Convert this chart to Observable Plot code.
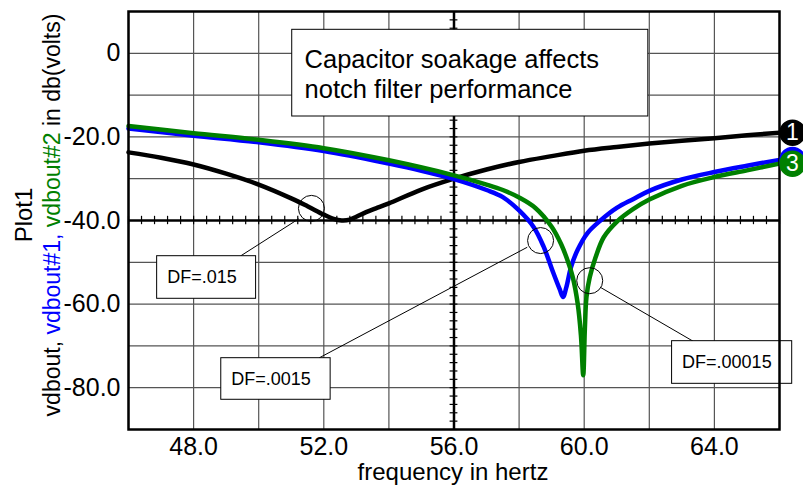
<!DOCTYPE html>
<html><head><meta charset="utf-8">
<script src="https://cdn.jsdelivr.net/npm/d3@7"></script>
<script src="https://cdn.jsdelivr.net/npm/@observablehq/plot@0.6"></script>
<style>
body{margin:0;background:#fff}
svg{font-family:"Liberation Sans",Arial,sans-serif}
</style>
</head><body><div id="chart"></div>
<script>
// vdbout (DF=.015)
const freqBlack = [46,47,48,49,50,51,51.5,52,52.3,52.55,52.8,53.0,53.3,53.6,54,55,56,57,58,59,60,61,62,63,64,65,66];
const dbBlack   = [-23.7,-25.0,-26.6,-28.8,-31.4,-34.7,-36.6,-38.6,-39.6,-40.0,-39.8,-39.1,-38.0,-37.1,-35.9,-32.6,-30.0,-27.8,-26.0,-24.6,-23.3,-22.4,-21.6,-20.9,-20.3,-19.6,-19.0];
// vdbout#1 (DF=.0015)
const freqBlue = [46,48,50,52,54,55,56,57,57.5,58,58.45,58.75,59.05,59.25,59.35,59.45,59.6,59.8,60.1,60.5,61,61.5,62,63,64,65,66];
const dbBlue   = [-18.0,-19.7,-21.3,-23.4,-26.4,-28.1,-30.1,-32.7,-34.4,-37.6,-41.6,-46.2,-52.5,-56.5,-58.3,-56.0,-51.0,-47.0,-43.0,-40.0,-37.0,-34.9,-32.9,-30.2,-28.4,-26.9,-25.5];
// vdbout#2 (DF=.00015)
const freqGreen = [46,48,50,52,54,56,57,57.5,58,58.5,59,59.3,59.5,59.65,59.8,59.9,59.97,60.02,60.07,60.17,60.35,60.6,61,61.5,62,63,64,65,66];
const dbGreen   = [-17.4,-19.1,-20.7,-22.7,-25.6,-29.2,-31.4,-32.7,-34.5,-37.0,-41.5,-45.8,-49.8,-53.6,-59.9,-67.5,-77.0,-66.0,-58.3,-53.6,-48.8,-44.0,-40.3,-37.3,-35.0,-31.7,-29.6,-28.0,-26.4];

const seriesNames  = ["vdbout","vdbout#1","vdbout#2"];
const seriesColors = ["#000000","#0000ff","#008000"];
const seriesTags   = ["1","2","3"];

const xTicks = [48,52,56,60,64];
const yTicks = [0,-20,-40,-60,-80];

// annotations (data units)
const titleText = "Capacitor soakage affects\nnotch filter performance";
const titleBox = {x1:51.03, x2:61.97, y1:5.62, y2:-15.12, tx:51.41, ty:-4.76};
const dfLabels  = ["DF=.015","DF=.0015","DF=.00015"];
const boxX1     = [46.88,48.85,62.70];
const boxX2     = [49.92,52.21,66.39];
const boxTop    = [-48.54,-72.94,-68.87];
const boxBottom = [-58.73,-82.89,-79.07];
const circleF   = [51.62,58.66,60.17];
const circleDb  = [-37.1,-44.8,-54.4];
const leadF1  = [49.44,51.85,63.35];
const leadDb1 = [-48.5,-72.9,-68.9];
const leadF2  = [51.23,58.25,60.5];
const leadDb2 = [-39.6,-46.4,-56.0];

const freqs = [freqBlack, freqBlue, freqGreen];
const dbs = [dbBlack, dbBlue, dbGreen];
const rows = [];
seriesNames.forEach((s,i)=> freqs[i].forEach((f,j)=> rows.push({series:s, f, db:dbs[i][j]})));
const ends = seriesNames.map((s,i)=>({series:s, tag:seriesTags[i], color:seriesColors[i], f:freqs[i][freqs[i].length-1], db:dbs[i][dbs[i].length-1]}));
const boxes = dfLabels.map((t,i)=>({t, x1:boxX1[i], x2:boxX2[i], y1:boxTop[i], y2:boxBottom[i], cf:circleF[i], cd:circleDb[i], lf1:leadF1[i], ld1:leadDb1[i], lf2:leadF2[i], ld2:leadDb2[i]}));

const hTicks = d3.range(46, 66.001, 0.4);
const vTicks = d3.range(-90, 10.001, 2);

const plot = Plot.plot({
  width: 803, height: 487,
  marginLeft: 128, marginTop: 11, marginBottom: 58, marginRight: 24,
  style: {fontFamily: '"Liberation Sans", Arial, sans-serif', background: "#fff", overflow: "visible"},
  x: {domain: [46, 66]},
  y: {domain: [-90, 10]},
  color: {domain: seriesNames, range: seriesColors},
  marks: [
    Plot.gridX(d3.range(46, 66.01, 2), {stroke: "#555", strokeOpacity: 1, strokeWidth: 1.2}),
    Plot.gridY(d3.range(-90, 10.01, 10), {stroke: "#555", strokeOpacity: 1, strokeWidth: 1.2}),
    Plot.ruleY([-40], {stroke: "#000", strokeWidth: 2.5}),
    Plot.ruleX([56], {stroke: "#000", strokeWidth: 2.5}),
    Plot.ruleX(hTicks, {x: d => d, y1: -41, y2: -39, stroke: "#000", strokeWidth: 1.2}),
    Plot.ruleY(vTicks, {y: d => d, x1: 55.88, x2: 56.12, stroke: "#000", strokeWidth: 1.2}),
    Plot.rect([titleBox], {x1: "x1", x2: "x2", y1: "y1", y2: "y2", fill: "#fff", stroke: "#000", strokeWidth: 1}),
    Plot.text([titleBox], {x: "tx", y: "ty", text: () => titleText, textAnchor: "start", fontSize: 25.5, lineHeight: 1.18, fill: "#000"}),
    Plot.axisX(xTicks, {tickSize: 0, tickPadding: 8, fontSize: 25, tickFormat: d => d.toFixed(1), label: null, color: "#000"}),
    Plot.axisY(yTicks, {tickSize: 0, tickPadding: 8, fontSize: 25, tickFormat: d => d === 0 ? "0" : d.toFixed(1), label: null, color: "#000"}),
    Plot.line(rows, {x: "f", y: "db", z: "series", stroke: "series", strokeWidth: 4.5, curve: "catmull-rom"}),
    Plot.dot(boxes, {x: "cf", y: "cd", r: 13, stroke: "#000", strokeWidth: 1, fill: "none"}),
    Plot.link(boxes, {x1: "lf1", y1: "ld1", x2: "lf2", y2: "ld2", stroke: "#000", strokeWidth: 1}),
    Plot.rect(boxes, {x1: "x1", x2: "x2", y1: "y1", y2: "y2", fill: "#fff", stroke: "#000", strokeWidth: 1, clip: false}),
    Plot.text(boxes, {x: "x1", y: d => (d.y1 + d.y2) / 2, text: "t", dx: 10, textAnchor: "start", fontSize: 18, fill: "#000"}),
    Plot.frame({stroke: "#000", strokeWidth: 2.5}),
    Plot.dot(ends, {x: "f", y: "db", dx: 13, r: 12.5, fill: "color", stroke: "color", clip: false}),
    Plot.text(ends.filter(d => d.tag !== "2"), {x: "f", y: "db", dx: 13, text: "tag", fill: "#fff", fontSize: 23, clip: false})
  ]
});

const svg = d3.select(plot);
svg.append("text").attr("x", 453).attr("y", 480)
  .attr("text-anchor", "middle").style("font-size", "24px").attr("fill", "#000").text("frequency in hertz");
svg.append("text").attr("transform", "translate(32,215) rotate(-90)")
  .attr("text-anchor", "middle").style("font-size", "24px").attr("fill", "#000").text("Plot1");
const yl = svg.append("text").attr("transform", "translate(60,215) rotate(-90)")
  .attr("text-anchor", "middle").style("font-size", "23px");
yl.append("tspan").attr("fill", "#000").text("vdbout, ");
yl.append("tspan").attr("fill", "#0000ff").text("vdbout#1, ");
yl.append("tspan").attr("fill", "#008000").text("vdbout#2");
yl.append("tspan").attr("fill", "#000").text(" in db(volts)");

document.getElementById("chart").appendChild(plot);
</script>
</body></html>
